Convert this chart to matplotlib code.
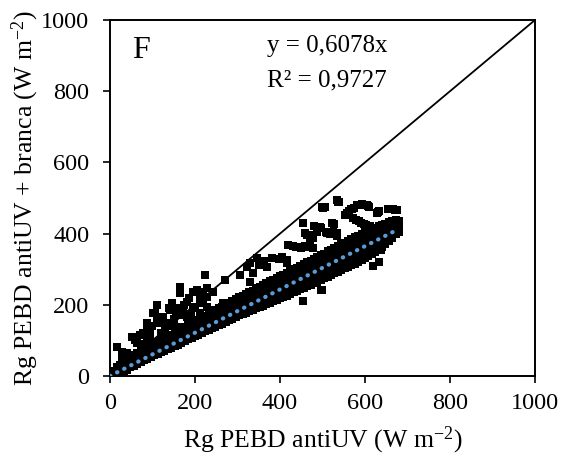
import matplotlib
matplotlib.use("Agg")
import matplotlib.pyplot as plt
import numpy as np

plt.rcParams['font.family'] = ['Liberation Serif', 'DejaVu Serif']
plt.rcParams['mathtext.fontset'] = 'custom'
plt.rcParams['mathtext.rm'] = 'Liberation Serif'
plt.rcParams['mathtext.it'] = 'Liberation Serif:italic'

# ---- data ----
band_x = [0, 8, 16, 24, 32, 40, 48, 56, 64, 72, 80, 88, 96, 104, 112, 120, 128, 136, 144, 152,
          160, 168, 176, 184, 192, 200, 208, 216, 224, 232, 240, 248, 256, 264, 272, 280, 288, 296,
          304, 312, 320, 328, 336, 344, 352, 360, 368, 376, 384, 392, 400, 408, 416, 424, 432, 440,
          448, 456, 464, 472, 480, 488, 496, 504, 512, 520, 528, 536, 544, 552, 560, 568, 576, 584,
          592, 600, 608, 616, 624, 632, 640, 648, 656, 664, 672, 680]
band_low = [0, 2, 6, 10, 14, 18, 24, 28, 34, 38, 44, 48, 53, 58, 62, 66, 71, 76, 80, 84,
            88, 93, 98, 103, 108, 112, 116, 121, 126, 130, 134, 139, 143, 147, 152, 156, 160, 165,
            170, 174, 178, 182, 186, 190, 194, 198, 202, 206, 210, 214, 218, 222, 226, 231, 235, 239,
            243, 248, 252, 256, 261, 265, 270, 274, 279, 283, 288, 292, 297, 302, 306, 311, 316, 321,
            326, 331, 336, 342, 348, 354, 362, 370, 378, 388, 398, 405]
band_q1 = [2, 5, 10, 14, 19, 24, 30, 34, 40, 45, 51, 55, 60, 66, 71, 75, 80, 85, 90, 94,
           99, 103, 109, 113, 119, 123, 127, 132, 137, 141, 146, 151, 155, 159, 164, 169, 173, 178,
           183, 187, 191, 196, 200, 204, 209, 213, 217, 222, 226, 230, 235, 239, 243, 248, 252, 257,
           261, 266, 270, 275, 279, 284, 289, 293, 298, 302, 307, 311, 316, 321, 325, 330, 335, 340,
           345, 350, 355, 360, 365, 371, 377, 383, 390, 397, 405, 411]
band_mid = [3, 8, 14, 19, 24, 30, 36, 41, 47, 52, 58, 63, 68, 74, 80, 84, 90, 95, 100, 104,
            110, 114, 120, 124, 130, 134, 139, 144, 149, 153, 158, 163, 168, 172, 177, 182, 186, 192,
            196, 201, 205, 210, 214, 219, 224, 228, 233, 238, 242, 247, 252, 256, 261, 266, 270, 275,
            280, 284, 289, 294, 298, 303, 308, 312, 317, 322, 326, 331, 336, 340, 345, 350, 355, 360,
            364, 369, 374, 378, 383, 388, 392, 397, 402, 406, 412, 418]
band_q3 = [6, 12, 19, 26, 31, 38, 44, 50, 56, 61, 67, 72, 78, 83, 88, 92, 98, 104, 108, 113,
           118, 123, 129, 133, 139, 143, 148, 154, 158, 162, 168, 174, 179, 183, 188, 194, 198, 204,
           208, 214, 218, 223, 227, 232, 238, 242, 246, 252, 256, 262, 266, 270, 276, 280, 285, 290,
           295, 299, 304, 309, 314, 318, 324, 328, 334, 338, 343, 348, 353, 357, 362, 367, 372, 377,
           382, 386, 391, 395, 400, 404, 408, 412, 417, 421, 425, 426]
band_high = [8, 15, 24, 32, 38, 45, 52, 58, 64, 70, 76, 82, 88, 92, 96, 101, 106, 112, 116, 122,
             127, 132, 138, 142, 148, 152, 158, 163, 168, 172, 178, 184, 190, 194, 200, 205, 210, 216,
             221, 226, 230, 236, 240, 246, 251, 256, 260, 266, 270, 276, 280, 285, 290, 294, 300, 304,
             310, 314, 320, 324, 330, 334, 340, 344, 350, 354, 360, 364, 370, 374, 380, 384, 390, 394,
             400, 404, 408, 412, 416, 420, 424, 428, 432, 436, 438, 434]

upper_x = [534, 501, 499, 536, 553, 558, 570, 581, 594, 607, 631, 659, 671, 572, 585, 598, 612, 671,
           663, 522, 534, 494, 496, 459, 470, 478, 510, 525, 534, 470, 478, 419, 440, 460, 478, 463,
           381, 398, 416, 329, 350, 369, 336, 306, 271, 329, 224, 228, 242, 212, 212, 266, 165, 165,
           205, 218, 228, 110, 146, 158, 165, 181, 195, 106, 110, 113, 87, 78, 94, 86, 52, 64, 28, 28,
           16, 40, 134, 146, 158, 219, 228, 235, 181, 212, 101, 141, 172, 87, 346, 362, 416, 437, 454,
           480, 508, 534, 322,
           563, 568, 575, 588, 600, 604, 610, 578, 590, 602, 608, 614, 655, 665, 675, 668, 676, 672,
           518, 486, 464, 528, 506, 540, 628, 634, 430, 450, 465, 400, 405,
           60, 70, 75, 95, 100, 120, 125, 130, 150, 155, 170, 175, 190, 200, 120, 185, 195, 140]
upper_y = [494, 472, 475, 489, 452, 458, 470, 480, 482, 478, 461, 469, 466, 444, 436, 428, 420, 430,
           419, 430, 402, 419, 416, 402, 395, 388, 402, 405, 392, 374, 360, 368, 362, 365, 360, 320,
           331, 328, 326, 317, 312, 306, 289, 284, 270, 264, 284, 247, 236, 233, 213, 205, 250, 233,
           242, 235, 222, 200, 205, 190, 180, 208, 191, 177, 160, 149, 138, 121, 110, 101, 110, 93,
           67, 53, 81, 65, 149, 140, 138, 205, 195, 185, 166, 177, 177, 185, 185, 149, 331, 322, 317,
           362, 430, 420, 405, 402, 306,
           463, 468, 473, 480, 481, 479, 476, 438, 430, 423, 420, 416, 468, 470, 465, 428, 432, 420,
           398, 405, 396, 428, 474, 490, 459, 463, 365, 360, 362, 330, 335,
           100, 115, 90, 125, 140, 150, 165, 130, 160, 175, 170, 200, 175, 195, 120, 220, 235, 190]

lower_x = [638, 619, 633, 499, 454, 496]
lower_y = [354, 309, 320, 242, 211, 242]

slope = 0.6078
trend_x = [0, 680]
one_x = [0, 1000]
ticks = [0, 200, 400, 600, 800, 1000]

# ---- figure ----
fig = plt.figure(figsize=(5.72, 4.61), dpi=100)
ax = fig.add_axes([0.1923, 0.1844, 0.743, 0.7722])

bx = np.array(band_x * 5)
by = np.array(band_low + band_q1 + band_mid + band_q3 + band_high)
all_x = np.concatenate([bx, upper_x, lower_x])
all_y = np.concatenate([by, upper_y, lower_y])
ax.scatter(all_x, all_y, marker='s', s=34, color='black', linewidths=0, zorder=2)

ax.plot(one_x, one_x, color='black', lw=1.3, zorder=3)
ax.plot(trend_x, [slope * v for v in trend_x], color='#5B9BD5', lw=3.0,
        linestyle=(0, (0.1, 1.8)), dash_capstyle='round', zorder=4)

ax.set_xlim(0, 1000)
ax.set_ylim(0, 1000)
ax.set_xticks(ticks)
ax.set_yticks(ticks)
ax.tick_params(direction='out', length=5, width=1.2, labelsize=17.5)
ax.tick_params(axis='x', pad=7)
ax.tick_params(axis='y', pad=10)
for sp in ax.spines.values():
    sp.set_linewidth(1.4)

ax.set_xlabel(r"Rg PEBD antiUV (W m$^{-2}$)", fontsize=18.5, labelpad=8)
ax.set_ylabel(r"Rg PEBD antiUV + branca (W m$^{-2}$)", fontsize=18.5, labelpad=0)

ax.text(52, 893, "F", fontsize=23, ha='left', va='baseline')
ax.text(369, 910, "y = 0,6078x", fontsize=18, ha='left', va='baseline')
ax.text(369, 812, "R² = 0,9727", fontsize=18, ha='left', va='baseline')

fig.savefig("out.png", dpi=100)
